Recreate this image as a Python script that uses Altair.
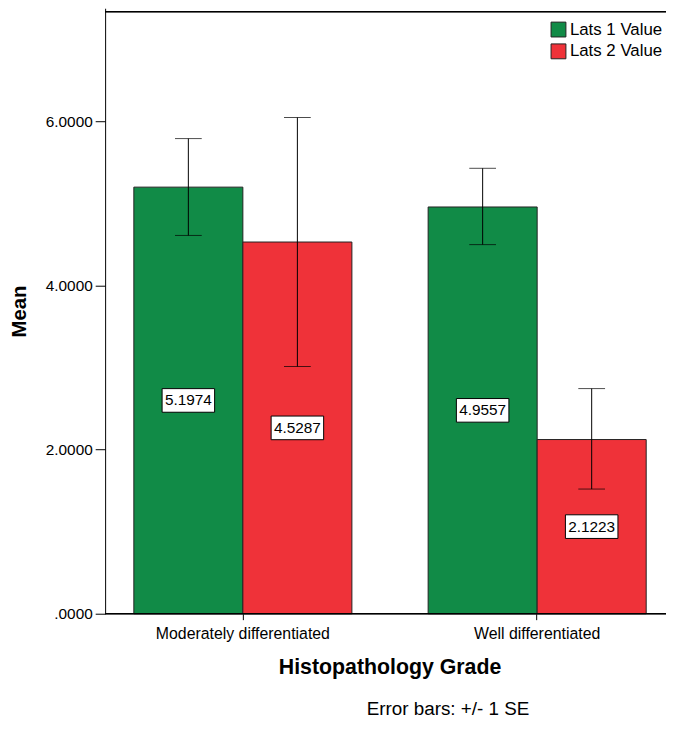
import altair as alt
import pandas as pd

grades = ["Moderately differentiated", "Well differentiated"]
series = ["Lats 1 Value", "Lats 2 Value"]
means = {
    "Lats 1 Value": [5.1974, 4.9557],
    "Lats 2 Value": [4.5287, 2.1223],
}
lower = {
    "Lats 1 Value": [4.609, 4.497],
    "Lats 2 Value": [3.012, 1.519],
}
upper = {
    "Lats 1 Value": [5.789, 5.427],
    "Lats 2 Value": [6.046, 2.743],
}
colors = ["#118B47", "#EF3239"]
y_ticks = [0, 2, 4, 6]
footnote = "Error bars: +/- 1 SE"

rows = []
for s in series:
    for i, g in enumerate(grades):
        rows.append({
            "grade": g, "series": s, "mean": means[s][i],
            "lo": lower[s][i], "hi": upper[s][i],
            "mid": means[s][i] / 2, "label": f"{means[s][i]:.4f}",
        })
df = pd.DataFrame(rows)

W, H = 566, 611
TOP = -3
FONT = "Liberation Sans"

x_enc = alt.X("grade:N", sort=grades,
              scale=alt.Scale(range=[0, 575], paddingInner=0.259, paddingOuter=0.0976),
              axis=alt.Axis(title="Histopathology Grade", labelAngle=0, labelFontSize=16,
                            labelFont=FONT, labelColor="#000", titleFont=FONT,
                            titleFontSize=21.5, titleFontWeight="bold", titleColor="#000",
                            titlePadding=15, titleX=287, labelPadding=6, domain=False,
                            tickSize=6, tickColor="#000"))
xo = alt.XOffset("series:N", sort=series, scale=alt.Scale(paddingInner=0, paddingOuter=0))
y_scale = alt.Scale(domain=[0, 7.377], nice=False, zero=True)

bars = alt.Chart(df).mark_bar(stroke="#222", strokeWidth=1).encode(
    x=x_enc, xOffset=xo,
    y=alt.Y("mean:Q", scale=y_scale,
            axis=alt.Axis(title="Mean", values=y_ticks, grid=False,
                          labelExpr="datum.value == 0 ? '.0000' : format(datum.value, '.4f')",
                          labelFontSize=15.5, labelFont=FONT, labelColor="#000",
                          titleFont=FONT, titleFontSize=20.5, titleFontWeight="bold",
                          titleColor="#000", titlePadding=16,
                          tickSize=10, tickColor="#000", domainColor="#000", labelPadding=3)),
    color=alt.Color("series:N", sort=series,
                    scale=alt.Scale(domain=series, range=colors),
                    legend=alt.Legend(title=None, orient="none", legendX=449, legendY=13,
                                      symbolType="square", symbolSize=225,
                                      symbolStrokeColor="#222", symbolStrokeWidth=1,
                                      labelFontSize=17, labelFont=FONT, labelColor="#000",
                                      rowPadding=3, symbolOpacity=1, padding=0,
                                      labelOffset=3)),
)

rules = alt.Chart(df).mark_rule(color="#000", strokeWidth=1).encode(
    x=alt.X("grade:N", sort=grades), xOffset=xo,
    y="lo:Q", y2="hi:Q",
)
caps_hi = alt.Chart(df).mark_tick(color="#000", orient="horizontal", size=27, thickness=1).encode(
    x=alt.X("grade:N", sort=grades), xOffset=xo, y="hi:Q")
caps_lo = alt.Chart(df).mark_tick(color="#000", orient="horizontal", size=27, thickness=1).encode(
    x=alt.X("grade:N", sort=grades), xOffset=xo, y="lo:Q")

boxes = alt.Chart(df).mark_point(
    shape="M-1,-0.45H1V0.45H-1Z", size=2809, filled=True, fill="white",
    stroke="#000", strokeWidth=1, opacity=1).encode(
    x=alt.X("grade:N", sort=grades), xOffset=xo, y="mid:Q")
texts = alt.Chart(df).mark_text(font=FONT, fontSize=15.5, color="#000").encode(
    x=alt.X("grade:N", sort=grades), xOffset=xo, y="mid:Q", text="label:N")

top_line = alt.Chart(df).mark_rule(color="#000", strokeWidth=1).encode(
    x=alt.value(0), x2=alt.value(W), y=alt.value(3.5))
bottom_line = alt.Chart(df).mark_rule(color="#000", strokeWidth=1).encode(
    x=alt.value(0), x2=alt.value(W), y=alt.value(H))
note = alt.Chart(pd.DataFrame({"t": [footnote]})).mark_text(
    font=FONT, fontSize=19, color="#000", baseline="alphabetic").encode(
    x=alt.value(346), y=alt.value(713), text="t:N")

chart = alt.layer(bars, rules, caps_hi, caps_lo, boxes, texts, top_line, bottom_line, note).properties(
    width=W, height=H,
    autosize=alt.AutoSizeParams(type="none"),
    padding={"left": 98, "top": TOP, "right": 0, "bottom": 104},
).configure_view(stroke=None).configure_axis(domainWidth=1)

chart.save("out.html", embed_options={"renderer": "svg", "actions": False})
